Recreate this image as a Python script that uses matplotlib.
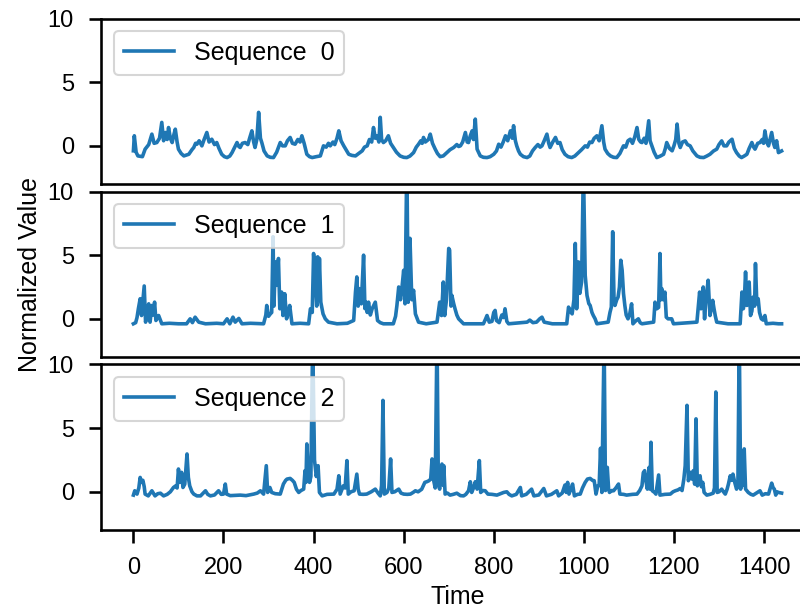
import matplotlib
matplotlib.use("Agg")
import matplotlib.pyplot as plt

# values, (time, value) pairs per sequence
t0 = [0, 2, 6, 10, 20, 26, 34, 41, 46, 52, 58, 63, 67, 71, 75, 78, 82, 86, 90, 93, 97, 100, 106, 112,
      123, 130, 134, 138, 141, 146, 152, 157, 163, 168, 174, 180, 185, 190, 196, 202, 208, 214, 219,
      225, 230, 234, 237, 242, 248, 254, 258, 263, 267, 270, 274, 278, 282, 285, 290, 297, 304, 311,
      318, 326, 331, 337, 342, 348, 353, 359, 365, 370, 374, 379, 385, 391, 397, 406, 415, 422, 428,
      433, 437, 443, 447, 452, 456, 461, 467, 472, 478, 485, 493, 500, 508, 513, 519, 524, 529, 533,
      537, 541, 545, 548, 551, 555, 560, 566, 571, 577, 584, 592, 600, 607, 614, 622, 628, 633, 638,
      641, 644, 648, 651, 655, 659, 664, 670, 675, 681, 688, 696, 703, 711, 718, 722, 726, 731, 737,
      741, 744, 748, 752, 755, 759, 763, 770, 777, 785, 792, 800, 806, 811, 816, 821, 826, 831, 837,
      841, 844, 848, 851, 855, 859, 866, 874, 880, 886, 892, 898, 903, 907, 912, 918, 922, 925, 931,
      937, 942, 947, 952, 958, 965, 973, 980, 988, 995, 1003, 1008, 1013, 1018, 1023, 1029, 1034,
      1040, 1044, 1047, 1053, 1059, 1066, 1073, 1080, 1088, 1093, 1098, 1103, 1108, 1113, 1118, 1122,
      1126, 1129, 1134, 1138, 1144, 1147, 1151, 1156, 1162, 1170, 1177, 1181, 1184, 1190, 1196, 1200,
      1204, 1207, 1211, 1214, 1219, 1225, 1230, 1236, 1242, 1251, 1258, 1266, 1273, 1280, 1288, 1295,
      1300, 1306, 1311, 1317, 1322, 1329, 1334, 1339, 1345, 1350, 1356, 1362, 1367, 1373, 1377, 1380,
      1386, 1391, 1396, 1399, 1402, 1406, 1410, 1414, 1417, 1421, 1424, 1428, 1432, 1439]
v0 = [-0.39, 0.79, -0.5, -0.79, -0.85, -0.26, 0.1, 0.92, 0.2, 0.26, 0.6, 1.84, 0.4, 1.05, 0.5, 1.44,
      0.6, 0.26, 0.9, 1.31, 0.3, -0.26, -0.6, -0.79, -0.66, -0.3, -0.13, 0.2, 0.13, 0.4, 0.0, 0.5, 1.05,
      0.3, 0.52, 0.1, 0.26, -0.2, -0.66, -0.85, -0.92, -0.8, -0.53, -0.1, 0.26, -0.05, -0.13, 0.2, 0.26,
      0.1, 0.6, 1.18, 0.3, -0.13, 0.5, 2.63, 0.6, 0.26, -0.4, -0.79, -0.9, -0.92, -0.5, 0.26, 0.0, 0.0,
      0.4, 0.66, 0.2, 0.13, 0.5, 0.3, 0.79, 0.2, -0.66, -0.85, -0.92, -0.85, -0.79, 0.0, -0.1, 0.2, 0.0,
      0.3, 0.1, 0.6, 1.18, 0.4, 0.0, -0.3, -0.66, -0.75, -0.79, -0.6, -0.39, -0.1, 0.0, 0.5, 0.3, 1.44,
      0.6, 0.79, 0.3, 2.24, 0.5, 0.26, 0.4, 0.79, 0.2, -0.13, -0.5, -0.79, -0.9, -0.92, -0.8, -0.53,
      -0.1, 0.13, 0.4, 0.2, 0.66, 0.3, 0.39, 0.5, 0.92, 0.2, -0.26, -0.6, -0.85, -0.79, -0.53, -0.3,
      -0.13, 0.1, -0.05, 0.0, 0.3, 1.05, 0.3, 0.26, 0.8, 1.18, 0.5, 2.1, -0.26, -0.79, -0.9, -0.92,
      -0.85, -0.66, -0.4, 0.13, -0.1, 0.3, 0.79, 0.4, 1.18, 0.6, 1.58, 0.4, 0.0, -0.4, -0.66, -0.85,
      -0.92, -0.8, -0.4, -0.13, 0.1, -0.1, 0.0, 0.4, 0.92, 0.2, -0.13, 0.3, 0.66, 0.2, 0.26, -0.3,
      -0.66, -0.85, -0.92, -0.8, -0.53, -0.3, 0.0, -0.1, 0.3, 0.26, 0.6, 0.79, 0.4, 1.58, 0.3, -0.26,
      -0.6, -0.79, -0.9, -0.92, -0.6, 0.0, -0.1, 0.4, 0.52, 0.2, 0.7, 1.44, 0.5, 0.3, 0.26, 0.6, 0.2,
      1.97, 0.4, 0.0, -0.5, -0.92, -0.8, -0.66, -0.2, 0.26, -0.2, -0.39, 0.0, 0.5, 1.71, 0.2, -0.13,
      0.3, 0.39, 0.1, 0.0, -0.4, -0.79, -0.9, -0.92, -0.8, -0.66, -0.4, -0.26, 0.1, 0.39, 0.0, 0.0, 0.3,
      0.52, -0.2, -0.53, -0.8, -0.92, -0.8, -0.66, -0.2, 0.26, -0.1, -0.26, 0.2, 0.26, 0.5, 0.2, 1.18,
      0.3, 0.0, 0.6, 1.05, 0.2, -0.13, 0.4, -0.53, -0.4]

t1 = [0, 5, 8, 11, 15, 18, 24, 27, 30, 34, 37, 41, 44, 47, 50, 56, 63, 80, 100, 118, 126, 131, 137,
      145, 160, 185, 200, 208, 214, 221, 226, 234, 241, 260, 289, 294, 296, 300, 304, 307, 310, 312,
      315, 318, 322, 325, 329, 332, 336, 340, 344, 347, 352, 370, 389, 393, 397, 400, 404, 407, 409,
      411, 413, 416, 421, 426, 433, 452, 475, 489, 493, 496, 499, 502, 506, 511, 514, 516, 519, 522,
      526, 530, 537, 542, 548, 555, 577, 582, 585, 589, 593, 596, 600, 603, 607, 610, 614, 618, 622,
      626, 633, 650, 674, 680, 684, 688, 691, 695, 700, 702, 705, 707, 711, 714, 718, 722, 733, 760,
      777, 782, 785, 790, 796, 800, 803, 806, 812, 818, 822, 825, 829, 833, 874, 880, 887, 895, 902,
      907, 912, 930, 962, 966, 970, 974, 978, 981, 984, 988, 991, 995, 999, 1003, 1007, 1011, 1014,
      1018, 1021, 1025, 1029, 1054, 1058, 1061, 1064, 1067, 1069, 1073, 1076, 1079, 1082, 1085, 1088,
      1091, 1094, 1098, 1102, 1106, 1109, 1114, 1121, 1125, 1129, 1155, 1158, 1162, 1166, 1169, 1171,
      1173, 1176, 1180, 1183, 1187, 1195, 1199, 1251, 1254, 1257, 1260, 1263, 1265, 1268, 1271, 1273,
      1276, 1280, 1283, 1286, 1289, 1292, 1295, 1320, 1347, 1351, 1354, 1356, 1359, 1362, 1365, 1367,
      1370, 1373, 1376, 1379, 1381, 1384, 1387, 1390, 1394, 1398, 1402, 1405, 1420, 1432, 1439]
v1 = [-0.39, -0.3, 0.1, 0.79, 1.58, 0.26, 2.58, -0.26, 0.4, 1.18, -0.26, 1.05, 0.3, 1.31, -0.13, 0.26,
      -0.39, -0.35, -0.39, -0.39, 0.0, -0.3, 0.13, -0.26, -0.39, -0.35, -0.39, 0.0, -0.39, 0.13, -0.26,
      0.03, -0.39, -0.35, -0.39, 0.3, 1.05, 0.2, 0.39, 0.5, 6.45, 1.0, 4.47, 2.63, 4.74, 0.79, 2.1, 0.26,
      1.97, 0.0, 0.5, 1.05, -0.39, -0.35, -0.39, 0.79, 0.5, 5.13, 2.89, 1.0, 4.87, 1.5, 4.74, 1.31, 0.39,
      0.0, -0.26, -0.39, -0.35, -0.13, 2.1, 3.29, 1.0, 2.37, 1.18, 5.0, 0.8, 1.31, 0.5, 1.31, 0.3, 0.79,
      1.31, -0.13, -0.3, -0.39, -0.39, 0.2, 1.05, 2.5, 1.5, 2.37, 3.81, 1.18, 12.5, 1.3, 6.32, 1.5, 2.24,
      0.39, -0.26, -0.39, -0.26, 1.31, 0.26, 2.89, 0.26, 1.5, 5.53, 5.4, 1.0, 1.84, 1.2, 0.79, 0.3, 0.0,
      -0.39, -0.39, -0.39, 0.0, 0.26, -0.26, -0.2, 0.5, 0.66, -0.13, -0.3, 0.3, 0.1, 0.79, -0.2, -0.39,
      -0.26, -0.1, -0.3, -0.26, 0.0, 0.13, -0.26, -0.39, -0.39, 0.92, 0.6, 0.39, 1.5, 5.92, 0.79, 4.47,
      2.0, 2.89, 12.0, 3.42, 1.84, 1.2, 1.05, 0.5, 0.26, 0.0, -0.39, -0.26, 0.5, 0.92, 6.84, 1.5, 1.05,
      1.5, 1.71, 2.5, 4.6, 3.82, 2.0, 1.05, 0.3, 0.0, 0.4, 1.18, -0.39, -0.2, 0.0, -0.3, -0.39, -0.26,
      1.31, 0.79, 0.9, 5.13, 1.5, 2.37, 1.5, 2.1, 0.13, 0.0, 0.0, -0.39, -0.26, 0.9, 2.1, 0.79, 1.0, 2.5,
      0.0, 1.5, 2.1, 3.03, 0.26, 0.8, 1.45, 0.79, 0.2, -0.26, -0.39, -0.39, 2.1, 0.79, 1.2, 3.68, 1.05,
      1.5, 2.89, 0.26, 0.6, 1.71, 1.0, 4.34, 1.2, 1.58, 0.5, 0.0, -0.1, 0.26, -0.39, -0.35, -0.39, -0.39]

t2 = [0, 3, 8, 12, 15, 18, 21, 24, 26, 33, 41, 48, 54, 60, 67, 75, 82, 89, 94, 97, 100, 103, 107, 110,
      114, 119, 122, 125, 130, 134, 141, 149, 155, 160, 165, 171, 180, 189, 195, 200, 204, 207, 215,
      237, 250, 267, 275, 282, 289, 295, 298, 303, 307, 315, 326, 333, 338, 341, 348, 353, 357, 362,
      367, 372, 378, 381, 383, 385, 388, 391, 394, 398, 402, 406, 410, 413, 419, 430, 445, 452, 456,
      459, 463, 466, 470, 474, 477, 483, 490, 496, 499, 502, 510, 518, 528, 537, 543, 548, 551, 554,
      557, 563, 567, 571, 574, 580, 589, 594, 600, 608, 615, 621, 626, 632, 640, 647, 652, 656, 660,
      663, 666, 670, 674, 677, 680, 685, 688, 689, 692, 697, 703, 710, 718, 726, 733, 738, 744, 748,
      751, 755, 759, 763, 768, 771, 776, 781, 787, 796, 807, 815, 822, 829, 834, 840, 850, 859, 862,
      872, 884, 889, 900, 911, 917, 928, 940, 944, 952, 958, 961, 964, 967, 971, 975, 979, 986, 992,
      997, 1003, 1008, 1014, 1019, 1023, 1027, 1031, 1034, 1037, 1040, 1045, 1048, 1050, 1052, 1055,
      1057, 1062, 1066, 1071, 1077, 1080, 1088, 1095, 1108, 1118, 1124, 1129, 1132, 1135, 1138, 1141,
      1145, 1147, 1149, 1152, 1157, 1160, 1166, 1169, 1180, 1192, 1198, 1203, 1209, 1214, 1218, 1222,
      1225, 1229, 1232, 1235, 1237, 1240, 1243, 1246, 1249, 1252, 1255, 1258, 1261, 1264, 1267, 1273,
      1280, 1287, 1290, 1293, 1296, 1300, 1306, 1310, 1314, 1318, 1321, 1325, 1328, 1331, 1335, 1339,
      1342, 1345, 1348, 1351, 1353, 1356, 1359, 1365, 1371, 1376, 1383, 1391, 1396, 1403, 1410, 1414,
      1417, 1420, 1423, 1426, 1429, 1432, 1439]
v2 = [-0.26, 0.08, -0.18, 0.3, 1.13, 0.74, 0.9, 0.4, -0.18, -0.32, 0.08, -0.32, -0.15, -0.11, -0.32,
      -0.2, 0.0, 0.34, 0.47, 0.3, 1.79, 0.74, 1.53, 0.34, 0.6, 2.97, 1.13, 0.47, 0.0, -0.18, -0.32,
      -0.32, -0.1, 0.08, -0.2, -0.32, -0.25, 0.08, -0.2, -0.18, 0.61, -0.18, -0.3, -0.26, -0.3, -0.18,
      -0.1, 0.08, -0.18, 2.05, -0.05, 0.34, -0.05, -0.15, -0.18, 0.61, 0.9, 1.0, 1.05, 0.9, 0.74, 0.2,
      -0.05, 0.1, 0.21, 1.66, 0.74, 3.76, 1.79, 0.74, 1.2, 12.0, 2.5, 1.2, 2.05, -0.05, -0.32, -0.2,
      -0.18, 0.2, 1.26, -0.18, 0.2, 0.47, 0.3, 2.45, -0.18, 0.0, 0.08, 1.39, 0.2, -0.18, -0.2, -0.18,
      0.0, 0.21, -0.1, -0.32, 0.5, 7.18, -0.18, -0.05, 0.3, 2.58, -0.05, 0.0, 0.21, -0.1, -0.18, -0.2,
      -0.18, -0.05, 0.08, 0.0, 0.2, 0.74, 0.8, 0.87, 1.0, 2.58, 1.0, 0.3, 12.5, 0.5, 0.21, 2.18, 0.5,
      2.05, -0.18, -0.1, -0.26, -0.2, -0.11, -0.3, -0.32, -0.2, 0.08, 0.79, -0.05, 0.3, 0.79, 0.21, 2.45,
      -0.05, 0.1, 0.08, -0.18, -0.2, -0.26, -0.15, -0.05, 0.0, -0.2, -0.32, -0.2, 0.34, -0.32, -0.2,
      0.21, -0.32, -0.25, 0.26, -0.32, -0.2, 0.08, -0.32, -0.1, 0.53, -0.05, 0.74, -0.18, 0.2, 0.61,
      -0.32, -0.2, -0.18, 0.3, 0.74, 1.0, 1.05, 0.9, 0.87, -0.18, 0.47, 0.5, 3.42, -0.05, 12.0, 0.1, 1.0,
      1.92, 0.2, -0.05, 0.1, 0.08, 0.3, 0.61, -0.18, -0.2, -0.26, -0.2, -0.18, 0.1, 0.47, 1.5, 1.66, 0.8,
      0.21, 1.92, 0.21, 3.89, 0.08, -0.05, -0.18, 1.32, -0.26, -0.2, -0.18, 0.0, 0.08, 0.15, 0.26, 0.1,
      1.0, 2.05, 6.79, 0.87, 1.2, 1.53, 1.0, 1.66, 0.6, 5.73, 0.47, 0.9, 1.26, 0.4, 0.74, -0.05, -0.26,
      -0.2, -0.11, 0.3, 7.84, -0.05, 0.0, 0.21, 0.0, -0.18, 0.2, 0.61, 1.26, 0.9, 1.39, 0.74, 0.21, 0.5,
      12.5, 0.21, 1.13, 0.5, 3.37, 0.21, -0.05, -0.2, -0.26, -0.1, 0.08, -0.26, -0.15, -0.18, 0.3, 0.68,
      0.34, 0.2, -0.26, 0.0, -0.05, -0.1]

series = [(t0, v0), (t1, v1), (t2, v2)]
labels = ["Sequence  0", "Sequence  1", "Sequence  2"]
yticks = [0, 5, 10]

plt.rcParams.update({
    "font.family": ["Liberation Sans", "DejaVu Sans"],
    "axes.linewidth": 1.875,
    "patch.linewidth": 1.5,
    "xtick.major.size": 9,
    "ytick.major.size": 9,
    "xtick.major.width": 1.875,
    "ytick.major.width": 1.875,
    "xtick.major.pad": 10.5,
    "ytick.major.pad": 10.5,
    "xtick.labelsize": 17,
    "ytick.labelsize": 17,
    "axes.labelsize": 18,
    "legend.fontsize": 18,
})

fig = plt.figure(figsize=(8, 6.08), dpi=100)
left, width = 0.12625, 0.89125
height, gap = 0.2722, 0.0123
axes = []
for i in range(3):
    bottom = 0.1283 + (2 - i) * (height + gap)
    ax = fig.add_axes([left, bottom, width, height], sharex=axes[0] if axes else None)
    axes.append(ax)

for i, (ax, (t, v)) in enumerate(zip(axes, series)):
    ax.plot(t, v, color="#1f77b4", linewidth=2.6, label=labels[i])
    ax.set_ylim(-3, 10)
    ax.set_yticks(yticks)
    ax.legend(loc="upper left")
    if i < 2:
        ax.tick_params(axis="x", bottom=False, labelbottom=False)

axes[1].set_ylabel("Normalized Value")
axes[2].set_xlabel("Time")
axes[2].set_xticks(range(0, 1401, 200))

fig.savefig("out.png", dpi=100)
